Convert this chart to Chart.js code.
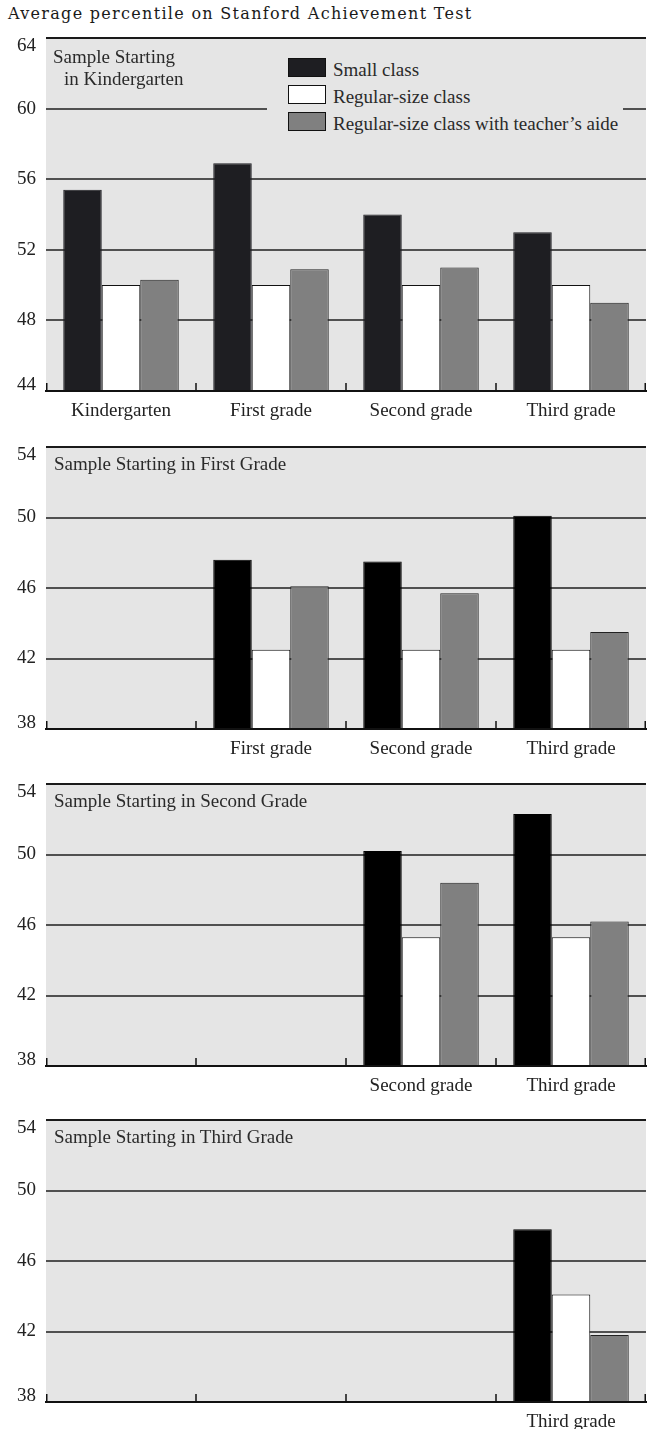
<!DOCTYPE html>
<html>
<head>
<meta charset="utf-8">
<title>Average percentile on Stanford Achievement Test</title>
<script src="https://cdn.jsdelivr.net/npm/chart.js@4.4.0/dist/chart.umd.min.js"></script>
<style>
  body { margin: 0; width: 650px; height: 1429px; overflow: hidden; position: relative; background: #fff; color: #222; font-family: "Liberation Serif", serif; }
  canvas { position: absolute; left: 0; }
  .title { position: absolute; left: 8px; top: 5px; font: 16px/18px "DejaVu Serif", serif; letter-spacing: 1.3px; color: #1a1a1a; white-space: nowrap; }
  .note { position: absolute; font-size: 19px; line-height: 22px; color: #2a2a2a; white-space: nowrap; }
  #legend { position: absolute; left: 267px; top: 50px; width: 356px; height: 90px; background: #e5e5e5; }
  #legend .sw { position: absolute; left: 21px; width: 38px; height: 19px; box-sizing: border-box; border: 1px solid #111; }
  #legend .txt { position: absolute; left: 66px; font-size: 19px; line-height: 22px; color: #2a2a2a; white-space: nowrap; }
</style>
</head>
<body>
<div class="title">Average percentile on Stanford Achievement Test</div>

<canvas id="chartK" width="650" height="425" style="top:0px"></canvas>
<canvas id="chartG1" width="650" height="333" style="top:430px"></canvas>
<canvas id="chartG2" width="650" height="333" style="top:767px"></canvas>
<canvas id="chartG3" width="650" height="333" style="top:1103px"></canvas>

<div class="note" style="left:53px;top:46px">Sample Starting</div>
<div class="note" style="left:64px;top:68px">in Kindergarten</div>
<div class="note" style="left:54px;top:453px">Sample Starting in First Grade</div>
<div class="note" style="left:54px;top:790px">Sample Starting in Second Grade</div>
<div class="note" style="left:54px;top:1126px">Sample Starting in Third Grade</div>

<div id="legend"></div>

<script>
// categorías y series
const grades = ['Kindergarten', 'First grade', 'Second grade', 'Third grade'];
const seriesNames = ['Small class', 'Regular-size class', 'Regular-size class with teacher\u2019s aide'];

// muestra que empieza en Kindergarten
const kSmall   = [55.4, 56.9, 54.0, 53.0];
const kRegular = [50.0, 50.0, 50.0, 50.0];
const kAide    = [50.3, 50.9, 51.0, 49.0];

// muestra que empieza en primer grado
const g1Small   = [null, 47.6, 47.5, 50.1];
const g1Regular = [null, 42.5, 42.5, 42.5];
const g1Aide    = [null, 46.1, 45.7, 43.5];

// muestra que empieza en segundo grado
const g2Small   = [null, null, 50.2, 52.3];
const g2Regular = [null, null, 45.3, 45.3];
const g2Aide    = [null, null, 48.4, 46.2];

// muestra que empieza en tercer grado
const g3Small   = [null, null, null, 47.8];
const g3Regular = [null, null, null, 44.1];
const g3Aide    = [null, null, null, 41.8];

// rangos de los ejes
const kRange = [44, 64];
const laterRange = [38, 54];
const yStep = 4;

// fondo gris, marcas hacia arriba en el eje x y etiquetas del eje y
const panelDecor = {
    id: 'panelDecor',
    beforeDraw(chart) {
        const { ctx, chartArea: a } = chart;
        ctx.save();
        ctx.fillStyle = '#e5e5e5';
        ctx.fillRect(a.left, a.top, a.right - a.left, a.bottom - a.top);
        ctx.restore();
    },
    afterDraw(chart) {
        const { ctx, chartArea: a, scales: { x, y } } = chart;
        ctx.save();
        ctx.strokeStyle = '#111';
        ctx.lineWidth = 1.5;
        const n = x.ticks.length;
        for (let i = 0; i <= n; i++) {
            let px;
            if (i === 0) px = x.left + 0.75;
            else if (i === n) px = x.right - 0.75;
            else px = (x.getPixelForTick(i - 1) + x.getPixelForTick(i)) / 2;
            ctx.beginPath();
            ctx.moveTo(px, a.bottom - 8);
            ctx.lineTo(px, a.bottom);
            ctx.stroke();
        }
        ctx.font = '19px "Liberation Serif"';
        ctx.fillStyle = '#222';
        ctx.textAlign = 'right';
        ctx.textBaseline = 'middle';
        y.ticks.forEach(t => {
            let py = y.getPixelForValue(t.value);
            if (t.value === y.max) py += 8;
            else if (t.value === y.min) py -= 6;
            ctx.fillText(String(t.value), a.left - 10, py);
        });
        ctx.restore();
    }
};

function crearPanel(id, values, range, smallColor, padTop) {
    const ctx = document.getElementById(id).getContext('2d');
    return new Chart(ctx, {
        type: 'bar',
        data: {
            labels: grades,
            datasets: [
                { label: seriesNames[0], data: values[0], backgroundColor: smallColor, borderColor: smallColor, borderWidth: 1 },
                { label: seriesNames[1], data: values[1], backgroundColor: '#ffffff', borderColor: '#111', borderWidth: 1 },
                { label: seriesNames[2], data: values[2], backgroundColor: '#808080', borderColor: '#222', borderWidth: 1 }
            ]
        },
        options: {
            responsive: false,
            animation: false,
            layout: { padding: { top: padTop, left: 46, right: 4, bottom: 0 } },
            datasets: { bar: { categoryPercentage: 0.77, barPercentage: 1 } },
            plugins: {
                legend: { display: false },
                tooltip: { enabled: false }
            },
            scales: {
                x: {
                    grid: { display: false },
                    border: { display: true, color: '#111', width: 2, z: 1 },
                    ticks: {
                        font: { family: 'Liberation Serif', size: 19 },
                        color: '#222',
                        padding: 1,
                        maxRotation: 0,
                        autoSkip: false,
                        callback: (v, i) => values.some(s => s[i] != null) ? grades[i] : ''
                    },
                    afterFit: s => { s.height = 34; }
                },
                y: {
                    min: range[0],
                    max: range[1],
                    ticks: { display: false, stepSize: yStep },
                    border: { display: false },
                    grid: {
                        drawTicks: false,
                        lineWidth: 2,
                        color: c => (c.tick && c.tick.value === range[1]) ? '#1a1a1a' : '#505050'
                    }
                }
            }
        },
        plugins: [panelDecor]
    });
}

// leyenda en HTML a partir de los datasets del primer gráfico
function crearLeyenda(chart) {
    const box = document.getElementById('legend');
    chart.data.datasets.forEach((ds, i) => {
        const sw = document.createElement('div');
        sw.className = 'sw';
        sw.style.top = (8 + i * 27) + 'px';
        sw.style.background = ds.backgroundColor;
        box.appendChild(sw);
        const txt = document.createElement('div');
        txt.className = 'txt';
        txt.style.top = (8.6 + i * 27) + 'px';
        txt.textContent = ds.label;
        box.appendChild(txt);
    });
}

document.addEventListener('DOMContentLoaded', function () {
    const chartK = crearPanel('chartK', [kSmall, kRegular, kAide], kRange, '#1e1e22', 38);
    crearPanel('chartG1', [g1Small, g1Regular, g1Aide], laterRange, '#000000', 17);
    crearPanel('chartG2', [g2Small, g2Regular, g2Aide], laterRange, '#000000', 17);
    crearPanel('chartG3', [g3Small, g3Regular, g3Aide], laterRange, '#000000', 17);
    crearLeyenda(chartK);
});
</script>
</body>
</html>
